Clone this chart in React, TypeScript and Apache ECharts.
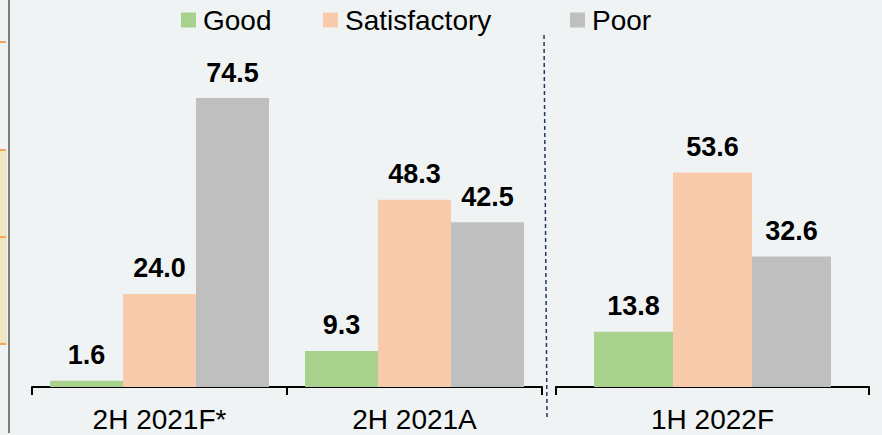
import React, { useEffect, useRef } from "react";
import * as echarts from "echarts";

const categoriesA = ["2H 2021F*", "2H 2021A"];
const categoriesB = ["1H 2022F"];
const goodValues = [1.6, 9.3, 13.8];
const satisfactoryValues = [24.0, 48.3, 53.6];
const poorValues = [74.5, 42.5, 32.6];

const FONT = "'Liberation Sans', Arial, sans-serif";
const COLORS = { Good: "#a9d18e", Satisfactory: "#f8cbad", Poor: "#bfbfbf" };

export default function App() {
  const ref = useRef<HTMLDivElement>(null);
  useEffect(() => {
    if (!ref.current) return;
    const chart = echarts.init(ref.current, undefined, { renderer: "svg" });
    const labelCfg = {
      show: true,
      position: "top",
      distance: 12,
      fontFamily: FONT,
      fontSize: 27,
      fontWeight: "bold",
      color: "#000",
      formatter: (p: any) => Number(p.value).toFixed(1),
    };
    const xAxisBase = {
      type: "category",
      axisLine: { show: true, lineStyle: { color: "#000", width: 2 } },
      axisTick: { show: true, length: 8, lineStyle: { color: "#000", width: 2 } },
      axisLabel: { fontFamily: FONT, fontSize: 28, color: "#000", margin: 18 },
    };
    const mk = (name: "Good" | "Satisfactory" | "Poor", vals: number[], idx: number, w: number) => ({
      name,
      type: "bar",
      xAxisIndex: idx,
      yAxisIndex: idx,
      data: vals,
      barWidth: w,
      barGap: "0%",
      itemStyle: { color: COLORS[name] },
      label: labelCfg,
    });
    const legendBase = {
      top: 1,
      itemWidth: 15,
      itemHeight: 15,
      itemGap: 0,
      icon: "rect",
      textStyle: { fontFamily: FONT, fontSize: 28, color: "#000", padding: [0, 0, 0, 2] },
    };
    chart.setOption({
      animation: false,
      backgroundColor: "#f0f3f4",
      legend: [
        { ...legendBase, left: 176, data: ["Good"] },
        { ...legendBase, left: 318, data: ["Satisfactory"] },
        { ...legendBase, left: 565, data: ["Poor"] },
      ],
      grid: [
        { left: 32, width: 510, top: 38, height: 349 },
        { left: 556, width: 313, top: 27, height: 360 },
      ],
      xAxis: [
        { ...xAxisBase, gridIndex: 0, data: categoriesA },
        { ...xAxisBase, gridIndex: 1, data: categoriesB },
      ],
      yAxis: [
        { type: "value", gridIndex: 0, min: 0, max: 90, show: false },
        { type: "value", gridIndex: 1, min: 0, max: 90, show: false },
      ],
      series: [
        mk("Good", goodValues.slice(0, 2), 0, 73),
        mk("Satisfactory", satisfactoryValues.slice(0, 2), 0, 73),
        mk("Poor", poorValues.slice(0, 2), 0, 73),
        mk("Good", goodValues.slice(2), 1, 79),
        mk("Satisfactory", satisfactoryValues.slice(2), 1, 79),
        mk("Poor", poorValues.slice(2), 1, 79),
      ],
      graphic: [
        { type: "rect", shape: { x: 0, y: 150, width: 7, height: 195 }, style: { fill: "#f1e6c2" }, silent: true },
        { type: "rect", shape: { x: 0, y: 41, width: 6, height: 2 }, style: { fill: "#f4a35a" }, silent: true },
        { type: "rect", shape: { x: 0, y: 149, width: 6, height: 2 }, style: { fill: "#f4a35a" }, silent: true },
        { type: "rect", shape: { x: 0, y: 236, width: 6, height: 2 }, style: { fill: "#f4a35a" }, silent: true },
        { type: "rect", shape: { x: 0, y: 343, width: 6, height: 2 }, style: { fill: "#f4a35a" }, silent: true },
        { type: "line", shape: { x1: 9, y1: 0, x2: 9, y2: 433 }, style: { stroke: "#595959", lineWidth: 1.5 }, silent: true },
        {
          type: "line",
          shape: { x1: 544, y1: 35, x2: 547, y2: 417 },
          style: { stroke: "#1f3864", lineWidth: 1.5, lineDash: [4, 3] },
          silent: true,
        },
      ],
    });
    return () => chart.dispose();
  }, []);
  return (
    <div
      ref={ref}
      style={{ position: "absolute", left: 0, top: 0, width: 882, height: 435 }}
    />
  );
}
